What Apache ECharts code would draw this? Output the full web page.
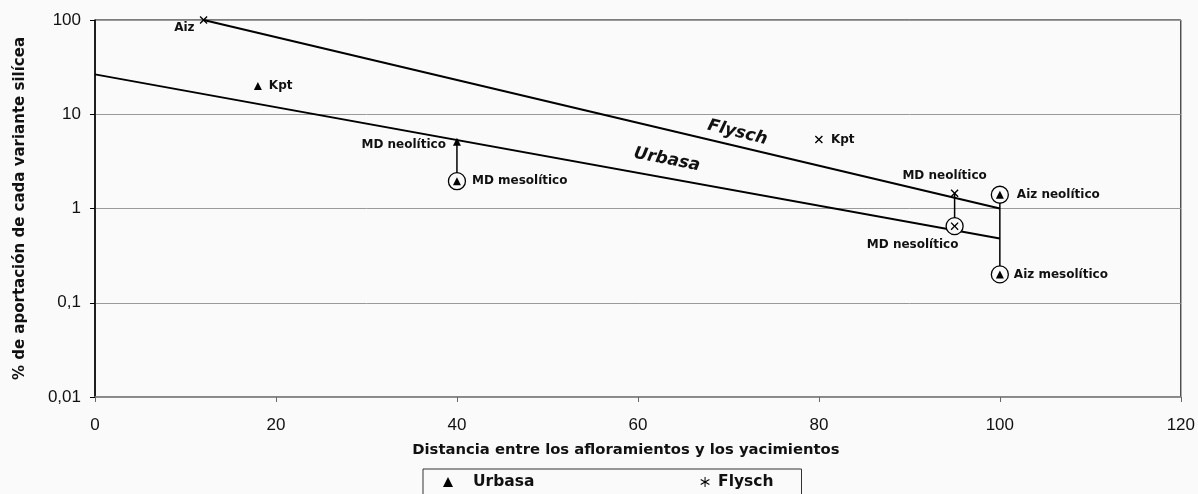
<!DOCTYPE html>
<html><head><meta charset="utf-8">
<script src="https://cdn.jsdelivr.net/npm/echarts@6/dist/echarts.min.js"></script>
<style>html,body{margin:0;padding:0;background:#fafafa}#c{width:1198px;height:494px}</style>
</head><body><div id="c"></div>
<script>
// ---- data ----
const xTicks = [0, 20, 40, 60, 80, 100, 120];
const yTicks = [0.01, 0.1, 1, 10, 100];
const yTickLabels = ['0,01', '0,1', '1', '10', '100'];

const urbasaX = [18, 40, 40, 100, 100];
const urbasaY = [20, 5.1, 1.95, 1.4, 0.2];
const urbasaNames = ['Kpt', 'MD neolítico', 'MD mesolítico', 'Aiz neolítico', 'Aiz mesolítico'];
const urbasaCircled = [false, false, true, true, true];

const flyschX = [12, 80, 95, 95];
const flyschY = [100, 5.4, 1.45, 0.65];
const flyschNames = ['Aiz', 'Kpt', 'MD neolítico', 'MD nesolítico'];
const flyschCircled = [false, false, false, true];

const flyschFitX = [12, 100];
const flyschFitY = [100, 1.0];
const urbasaFitX = [0, 100];
const urbasaFitY = [26.5, 0.48];

// vertical connectors: x, yLow, yHigh
const connX = [40, 95, 100];
const connLow = [1.95, 0.65, 0.2];
const connHigh = [5.1, 1.45, 1.4];

// line captions
const captionText = ['Flysch', 'Urbasa'];

// ---- build ----
const FONT = 'DejaVu Sans';
const TXT = '#111';
const BG = '#fafafa';
const xPath = 'path://M0,1.2L1.2,0L5,3.8L8.8,0L10,1.2L6.2,5L10,8.8L8.8,10L5,6.2L1.2,10L0,8.8L3.8,5Z';
const astPath = 'path://M4.5,0L5.5,0L5.5,10L4.5,10Z M0.92,2.07L9.58,7.07L9.08,7.93L0.42,2.93Z M0.42,7.07L9.08,2.07L9.58,2.93L0.92,7.93Z';

const urbLabelCfg = [
  {position: 'right', offset: [2, 0]},
  {position: 'left', offset: [-2, 3]},
  {position: 'right', offset: [6, 0]},
  {position: 'right', offset: [8, 0]},
  {position: 'right', offset: [5, 0]}
];
const flyLabelCfg = [
  {position: 'left', offset: [0, 8]},
  {position: 'right', offset: [3, 0]},
  {position: 'top', offset: [-10, -2]},
  {position: 'bottom', offset: [-42, 4]}
];
const captionCfg = [
  {coord: [71.0, 6.4], rotate: -14},
  {coord: [63.2, 3.3], rotate: -11}
];
const lblStyle = {fontFamily: FONT, fontWeight: 'bold', fontSize: 12, color: TXT};

const series = [];
// fit lines
series.push({
  name: 'flyschFit', type: 'line', data: flyschFitX.map((x, i) => [x, flyschFitY[i]]),
  symbol: 'none', lineStyle: {color: '#000', width: 2}, z: 2, silent: true
});
series.push({
  name: 'urbasaFit', type: 'line', data: urbasaFitX.map((x, i) => [x, urbasaFitY[i]]),
  symbol: 'none', lineStyle: {color: '#000', width: 2}, z: 2, silent: true
});
// captions on the lines
series.push({
  type: 'scatter', symbol: 'circle', symbolSize: 1, itemStyle: {color: 'rgba(0,0,0,0)', opacity: 1}, z: 5, silent: true,
  data: captionText.map((t, i) => ({value: captionCfg[i].coord,
    label: {show: true, position: 'inside', formatter: t, rotate: captionCfg[i].rotate,
      fontFamily: FONT, fontWeight: 'bold', fontStyle: 'italic', fontSize: 17, color: TXT}}))
});
// connectors
connX.forEach((x, i) => {
  series.push({
    type: 'line', data: [[x, connLow[i]], [x, connHigh[i]]], symbol: 'none',
    lineStyle: {color: '#000', width: 1.5}, z: 2, silent: true
  });
});
// circles
const circ = [];
urbasaX.forEach((x, i) => { if (urbasaCircled[i]) circ.push([x, urbasaY[i]]); });
flyschX.forEach((x, i) => { if (flyschCircled[i]) circ.push([x, flyschY[i]]); });
series.push({
  type: 'scatter', data: circ, symbol: 'circle', symbolSize: 17,
  itemStyle: {color: BG, borderColor: '#000', borderWidth: 1.3, opacity: 1}, z: 3, silent: true
});
// markers
series.push({
  name: 'Urbasa', type: 'scatter', symbol: 'triangle', symbolSize: 8,
  itemStyle: {color: '#000', opacity: 1}, z: 4,
  data: urbasaX.map((x, i) => ({value: [x, urbasaY[i]],
    label: Object.assign({show: true, formatter: urbasaNames[i]}, lblStyle, urbLabelCfg[i])}))
});
series.push({
  name: 'Flysch', type: 'scatter', symbol: xPath, symbolSize: 8,
  itemStyle: {color: '#000', opacity: 1}, z: 4,
  data: flyschX.map((x, i) => ({value: [x, flyschY[i]],
    label: Object.assign({show: true, formatter: flyschNames[i]}, lblStyle, flyLabelCfg[i])}))
});

const option = {
  backgroundColor: BG,
  animation: false,
  grid: {left: 95, right: 16, top: 20, bottom: 97, show: true, borderColor: '#000', borderWidth: 1, backgroundColor: 'transparent'},
  xAxis: {
    type: 'value', min: xTicks[0], max: xTicks[xTicks.length - 1], interval: 20,
    name: 'Distancia entre los afloramientos y los yacimientos', nameLocation: 'middle', nameGap: 46,
    nameTextStyle: {fontFamily: FONT, fontWeight: 'bold', fontSize: 14.8, color: TXT, padding: [0, 24, 0, 0]},
    axisLine: {lineStyle: {color: '#8a8a8a', width: 1.5}},
    axisTick: {show: true, length: 5, lineStyle: {color: '#666'}},
    splitLine: {show: false},
    axisLabel: {fontFamily: 'Liberation Sans', fontSize: 17, color: TXT, margin: 20}
  },
  yAxis: {
    type: 'log', logBase: 10, min: yTicks[0], max: yTicks[yTicks.length - 1],
    name: '% de aportación de cada variante silícea', nameLocation: 'middle', nameGap: 67,
    nameTextStyle: {fontFamily: FONT, fontWeight: 'bold', fontSize: 15, color: TXT},
    axisLine: {show: true, lineStyle: {color: '#000', width: 1.5}},
    axisTick: {show: true, length: 5, lineStyle: {color: '#000'}},
    splitLine: {show: true, lineStyle: {color: '#999', width: 1}},
    axisLabel: {fontFamily: 'Liberation Sans', fontSize: 17, color: TXT, margin: 14,
      formatter: v => { const k = yTicks.findIndex(t => Math.abs(Math.log10(t) - Math.log10(v)) < 1e-6); return k >= 0 ? yTickLabels[k] : ''; }}
  },
  legend: {
    left: 423, top: 469, orient: 'horizontal',
    borderColor: '#333', borderWidth: 1, padding: [5, 28, 14, 20],
    itemWidth: 10, itemHeight: 10, itemGap: 166,
    textStyle: {fontFamily: FONT, fontWeight: 'bold', fontSize: 15.5, color: TXT},
    data: [
      {name: 'Urbasa', icon: 'triangle', textStyle: {padding: [0, 0, 0, 15]}},
      {name: 'Flysch', icon: astPath, textStyle: {padding: [0, 0, 0, 3]}}
    ]
  },
  series: series
};
const chart = echarts.init(document.getElementById('c'), null, {renderer: 'canvas'});
chart.setOption(option);
</script></body></html>
